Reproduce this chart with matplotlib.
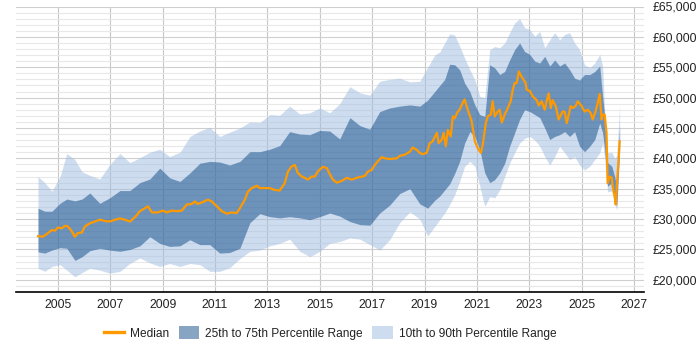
import numpy as np
import matplotlib
matplotlib.use("Agg")
import matplotlib.pyplot as plt
from matplotlib.lines import Line2D
from matplotlib.patches import Patch
from matplotlib.ticker import MultipleLocator, FuncFormatter

# ---- data (salary values in £ thousands) ----
band_years = [2004.24, 2004.50, 2004.77, 2005.08, 2005.34, 2005.65, 2005.92, 2006.22, 2006.60, 2006.98,
              2007.37, 2007.75, 2008.13, 2008.51, 2008.89, 2009.27, 2009.66, 2010.04, 2010.42, 2010.80,
              2011.18, 2011.56, 2011.95, 2012.33, 2012.71, 2013.09, 2013.47, 2013.85, 2014.24, 2014.62,
              2015.00, 2015.38, 2015.76, 2016.15, 2016.53, 2016.91, 2017.29, 2017.67, 2018.05, 2018.44,
              2018.82, 2019.12, 2019.39, 2019.58, 2019.77, 2019.96, 2020.15, 2020.34, 2020.53, 2020.73,
              2020.92, 2021.11, 2021.30, 2021.49, 2021.68, 2021.87, 2022.06, 2022.25, 2022.44, 2022.63,
              2022.82, 2023.02, 2023.21, 2023.40, 2023.59, 2023.78, 2023.97, 2024.16, 2024.35, 2024.54,
              2024.73, 2024.92, 2025.11, 2025.31, 2025.50, 2025.69, 2025.80, 2025.88, 2025.99, 2026.15,
              2026.26, 2026.34, 2026.45]

p90 = [37.0, 36.0, 34.6, 37.0, 40.8, 39.8, 37.8, 37.2, 36.6, 39.0,
       40.8, 39.3, 40.1, 41.0, 41.5, 40.3, 41.0, 43.6, 44.5, 45.1,
       43.6, 44.3, 45.0, 46.0, 45.9, 47.2, 47.1, 48.6, 47.3, 47.5,
       48.3, 47.5, 49.0, 51.8, 50.8, 50.4, 52.7, 53.0, 53.2, 52.6,
       52.7, 55.0, 57.0, 57.5, 59.0, 60.5, 60.3, 58.5, 56.5, 54.6,
       52.9, 50.2, 50.0, 57.9, 58.4, 58.2, 59.0, 60.7, 62.3, 63.0,
       61.5, 61.2, 60.1, 60.9, 58.2, 59.5, 60.7, 59.5, 60.4, 60.7,
       59.0, 57.9, 55.4, 54.9, 55.7, 57.1, 55.2, 47.5, 40.9, 41.0,
       40.0, 40.5, 48.6]

p75 = [31.8, 31.3, 31.3, 32.6, 33.3, 33.0, 33.3, 34.3, 32.6, 33.5,
       34.7, 34.7, 36.0, 36.6, 38.4, 36.8, 36.2, 37.6, 39.2, 39.5,
       39.4, 38.9, 39.5, 41.1, 41.1, 41.5, 42.1, 44.4, 44.0, 43.9,
       44.6, 44.5, 43.2, 46.7, 45.4, 44.8, 47.7, 48.3, 48.6, 48.8,
       48.6, 49.6, 51.0, 52.0, 53.0, 55.5, 55.4, 54.6, 52.4, 51.0,
       48.8, 47.2, 46.9, 55.4, 54.9, 53.8, 54.3, 56.2, 57.9, 59.0,
       57.6, 57.1, 56.0, 55.7, 56.8, 55.2, 56.2, 55.2, 55.7, 54.6,
       53.2, 52.9, 53.8, 53.8, 54.3, 55.2, 50.2, 46.9, 39.3, 38.7,
       37.0, 35.4, 45.3]

p25 = [24.6, 24.4, 24.9, 25.3, 25.2, 23.2, 23.8, 24.8, 25.2, 24.9,
       24.7, 25.0, 25.6, 27.1, 26.0, 25.5, 25.6, 26.6, 25.8, 25.8,
       24.4, 24.5, 25.2, 29.4, 30.9, 30.4, 30.2, 30.4, 30.2, 29.9,
       30.4, 31.0, 30.5, 29.6, 29.1, 29.0, 31.0, 32.3, 34.2, 35.0,
       32.5, 31.8, 33.1, 33.8, 34.8, 35.8, 37.5, 39.5, 42.5, 44.4,
       43.6, 41.4, 37.6, 36.0, 36.5, 37.6, 39.2, 42.0, 44.2, 46.4,
       48.0, 47.7, 47.2, 46.7, 45.0, 43.1, 43.6, 43.9, 44.4, 43.6,
       44.4, 42.0, 41.1, 42.0, 43.1, 45.8, 44.2, 41.4, 35.4, 36.0,
       33.7, 32.1, 41.5]

p10 = [21.9, 21.4, 22.2, 22.5, 21.6, 20.5, 21.2, 21.9, 21.6, 21.1,
       21.4, 22.7, 23.6, 22.8, 22.2, 22.7, 22.2, 22.7, 22.5, 21.4,
       21.4, 22.0, 23.5, 24.7, 24.9, 25.6, 26.0, 26.7, 24.7, 23.8,
       24.7, 26.0, 26.3, 26.9, 26.7, 25.8, 24.9, 26.6, 29.4, 31.2,
       30.0, 27.2, 28.8, 29.9, 31.0, 32.4, 34.0, 36.2, 38.7, 39.5,
       38.7, 35.4, 32.1, 33.7, 33.5, 34.8, 37.0, 39.2, 40.9, 42.5,
       43.3, 43.6, 43.0, 42.0, 40.3, 38.9, 40.3, 42.0, 40.9, 39.8,
       40.3, 38.9, 38.1, 38.7, 39.8, 40.9, 42.5, 39.8, 34.5, 34.6,
       32.6, 31.5, 40.5]

median_years = [2004.24, 2004.43, 2004.62, 2004.77, 2004.89, 2005.00, 2005.15, 2005.27, 2005.38, 2005.53,
                2005.65, 2005.76, 2005.92, 2006.03, 2006.22, 2006.41, 2006.60, 2006.79, 2006.98, 2007.18,
                2007.37, 2007.56, 2007.75, 2007.94, 2008.13, 2008.32, 2008.44, 2008.59, 2008.82, 2009.01,
                2009.16, 2009.35, 2009.54, 2009.73, 2009.92, 2010.11, 2010.23, 2010.34, 2010.53, 2010.73,
                2010.88, 2011.07, 2011.26, 2011.45, 2011.64, 2011.83, 2011.95, 2012.14, 2012.25, 2012.40,
                2012.60, 2012.71, 2013.09, 2013.28, 2013.47, 2013.66, 2013.78, 2013.93, 2014.05, 2014.16,
                2014.31, 2014.43, 2014.54, 2014.69, 2014.81, 2014.92, 2015.11, 2015.27, 2015.38, 2015.50,
                2015.65, 2015.84, 2016.03, 2016.22, 2016.41, 2016.60, 2016.72, 2016.83, 2016.98, 2017.10,
                2017.21, 2017.37, 2017.48, 2017.67, 2017.94, 2018.05, 2018.24, 2018.44, 2018.55, 2018.70,
                2018.82, 2018.93, 2019.08, 2019.20, 2019.31, 2019.47, 2019.54, 2019.66, 2019.73, 2019.81,
                2019.89, 2020.00, 2020.08, 2020.15, 2020.27, 2020.34, 2020.42, 2020.53, 2020.65, 2020.80,
                2020.92, 2021.03, 2021.15, 2021.22, 2021.34, 2021.41, 2021.53, 2021.60, 2021.68, 2021.79,
                2021.87, 2021.95, 2022.06, 2022.18, 2022.29, 2022.37, 2022.44, 2022.52, 2022.60, 2022.71,
                2022.79, 2022.86, 2022.90, 2023.02, 2023.13, 2023.28, 2023.36, 2023.47, 2023.59, 2023.66,
                2023.74, 2023.82, 2023.89, 2024.01, 2024.12, 2024.27, 2024.35, 2024.43, 2024.58, 2024.66,
                2024.77, 2024.85, 2025.00, 2025.11, 2025.23, 2025.34, 2025.42, 2025.53, 2025.61, 2025.69,
                2025.76, 2025.80, 2025.88, 2025.95, 2025.99, 2026.07, 2026.15, 2026.18, 2026.26, 2026.30,
                2026.34, 2026.41, 2026.45]

median = [27.2, 27.1, 27.7, 28.2, 28.1, 28.6, 28.5, 28.9, 28.8, 28.0,
          27.1, 27.7, 27.8, 28.8, 29.3, 29.6, 29.9, 29.7, 29.6, 29.9,
          30.1, 29.9, 29.6, 30.3, 31.3, 31.8, 32.1, 31.1, 31.1, 31.4,
          31.1, 31.4, 31.3, 31.4, 32.4, 32.5, 32.9, 32.5, 32.8, 33.2,
          32.9, 32.1, 31.3, 30.9, 31.1, 31.0, 31.8, 33.2, 34.5, 35.1,
          35.5, 35.1, 35.1, 34.8, 34.7, 35.9, 37.8, 38.7, 38.9, 37.6,
          37.0, 36.8, 36.5, 37.0, 37.0, 37.8, 38.6, 38.4, 37.4, 36.5,
          36.0, 36.3, 36.8, 36.5, 36.8, 37.0, 37.1, 37.8, 38.1, 38.9,
          39.5, 40.2, 40.0, 39.9, 40.0, 40.4, 40.6, 41.1, 41.8, 41.4,
          40.9, 40.7, 40.9, 42.5, 42.8, 44.2, 42.5, 43.1, 44.2, 42.0,
          44.7, 43.6, 46.9, 46.6, 47.7, 48.0, 48.8, 49.7, 48.0, 46.1,
          42.8, 41.7, 40.9, 42.2, 45.8, 46.9, 47.2, 49.4, 46.9, 47.7,
          48.0, 45.9, 47.2, 48.3, 49.4, 51.3, 52.4, 52.4, 54.3, 53.4,
          52.9, 52.4, 51.3, 51.1, 50.2, 49.6, 48.7, 49.4, 48.0, 49.4,
          50.7, 48.3, 49.6, 48.6, 46.4, 47.7, 47.7, 45.8, 48.6, 48.3,
          48.6, 49.4, 48.6, 47.7, 48.0, 47.5, 46.4, 47.7, 49.1, 50.6,
          46.4, 47.2, 47.2, 44.2, 35.9, 37.0, 36.8, 35.4, 33.7, 32.4,
          35.4, 39.8, 42.8]

year_ticks = [2005, 2007, 2009, 2011, 2013, 2015, 2017, 2019, 2021, 2023, 2025, 2027]

# ---- plot ----
plt.rcParams['font.family'] = ['Liberation Sans', 'DejaVu Sans']
text_color = '#222222'

fig = plt.figure(figsize=(7, 3.5), dpi=100)
ax = fig.add_axes([16 / 700, 1 - 292 / 350, (644 - 16) / 700, (292 - 6.5) / 350])

bx = np.array(band_years)
k = 1000.0
ax.fill_between(bx, np.array(p10) * k, np.array(p90) * k, color='#9dbbdf', alpha=0.5,
                lw=0, zorder=2)
ax.fill_between(bx, np.array(p25) * k, np.array(p75) * k, color='#104b89', alpha=0.5,
                lw=0, zorder=3)
ax.plot(median_years, np.array(median) * k, color='#ff9900', lw=1.6, zorder=4,
        solid_joinstyle='round')

ax.set_xlim(2003.4, 2027.38)
ax.set_ylim(18000, 65000)

ax.set_xticks(year_ticks)
ax.set_xticklabels([str(y) for y in year_ticks])
ax.yaxis.set_major_locator(MultipleLocator(5000))
ax.yaxis.set_minor_locator(MultipleLocator(1000))
ax.yaxis.set_major_formatter(FuncFormatter(lambda v, p: f"£{v:,.0f}"))
ax.yaxis.tick_right()

ax.grid(True, which='major', axis='y', color='#cfcfcf', lw=0.8, zorder=0)
ax.grid(True, which='minor', axis='y', color='#e8e8e8', lw=0.8, zorder=0)
ax.grid(True, which='major', axis='x', color='#c8c8c8', lw=0.8, zorder=0)
ax.set_axisbelow(True)

for s in ['top', 'left', 'right']:
    ax.spines[s].set_visible(False)
ax.spines['bottom'].set_color('#000000')
ax.spines['bottom'].set_linewidth(1.2)

ax.tick_params(axis='both', which='both', length=0, labelsize=8.8, labelcolor=text_color)
ax.tick_params(axis='y', pad=6)
ax.tick_params(axis='x', pad=5)

handles = [Line2D([0], [0], color='#ff9900', lw=2.4),
           Patch(facecolor='#104b89', alpha=0.5, edgecolor='none'),
           Patch(facecolor='#9dbbdf', alpha=0.5, edgecolor='none')]
labels = ['Median', '25th to 75th Percentile Range', '10th to 90th Percentile Range']
fig.legend(handles, labels, loc='center', bbox_to_anchor=(330 / 700, 1 - 333 / 350), ncol=3,
           frameon=False, fontsize=8.6, labelcolor=text_color, handlelength=1.7, handleheight=1.3,
           handletextpad=0.5, columnspacing=0.8)

fig.savefig('out.png', dpi=100)
